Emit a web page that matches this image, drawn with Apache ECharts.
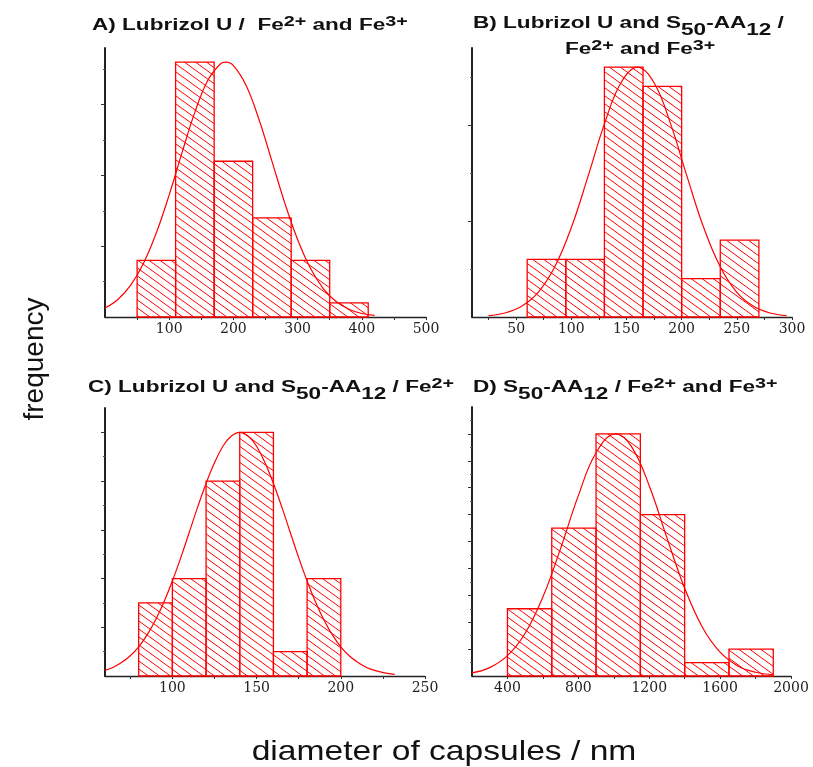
<!DOCTYPE html>
<html><head><meta charset="utf-8">
<script src="https://cdn.jsdelivr.net/npm/echarts@6/dist/echarts.min.js"></script>
<style>html,body{margin:0;padding:0;background:#fff}#c{width:813px;height:767px}</style>
</head><body><div id="c"></div>
<script>
// ---------- Panel A ----------
const aEdges = [50, 110, 170, 230, 290, 350, 410];
const aCounts = [4, 18, 11, 7, 4, 1];
const aFitX = [0, 20, 40, 60, 80, 100, 120, 140, 160, 180, 188, 200, 220, 240, 260, 280, 300, 320, 340, 360, 380, 400, 420];
const aFitY = [0.63, 1.24, 2.25, 3.80, 5.95, 8.63, 11.61, 14.47, 16.71, 17.89, 18.0, 17.75, 16.33, 13.93, 11.01, 8.06, 5.48, 3.45, 2.01, 1.09, 0.55, 0.25, 0.11];
const aXLabels = [100, 200, 300, 400, 500];
const aXTicks = [50, 100, 150, 200, 250, 300, 350, 400, 450, 500];
const aYMajor = [5, 10, 15];
const aYMinor = [2.5, 7.5, 12.5, 17.5];

// ---------- Panel B ----------
const bEdges = [60, 95, 130, 165, 200, 235, 270];
const bCounts = [3, 3, 13, 12, 2, 4];
const bFitX = [25, 40, 55, 70, 85, 100, 115, 130, 145, 160, 175, 190, 205, 220, 235, 250, 265, 280, 295];
const bFitY = [0.07, 0.21, 0.56, 1.28, 2.61, 4.65, 7.29, 10.05, 12.19, 13.0, 12.19, 10.05, 7.29, 4.65, 2.61, 1.28, 0.56, 0.21, 0.07];
const bXLabels = [50, 100, 150, 200, 250, 300];
const bXTicks = [25, 50, 75, 100, 125, 150, 175, 200, 225, 250, 275, 300];
const bYMajor = [5, 10];
const bYMinor = [2.5, 7.5, 12.5];

// ---------- Panel C ----------
const cEdges = [80, 100, 120, 140, 160, 180, 200];
const cCounts = [3, 4, 8, 10, 1, 4];
const cFitX = [60, 65, 70, 75, 80, 85, 90, 95, 100, 105, 110, 115, 120, 125, 130, 135, 140, 145, 150, 155, 160, 165, 170, 175, 180, 185, 190, 195, 200, 205, 210, 215, 220, 226, 232];
const cFitY = [0.23, 0.36, 0.56, 0.83, 1.20, 1.69, 2.30, 3.04, 3.90, 4.86, 5.89, 6.93, 7.90, 8.75, 9.43, 9.85, 10.0, 9.85, 9.43, 8.75, 7.90, 6.93, 5.89, 4.86, 3.90, 3.04, 2.30, 1.69, 1.20, 0.83, 0.56, 0.36, 0.23, 0.13, 0.07];
const cXLabels = [100, 150, 200, 250];
const cXTicks = [75, 100, 125, 150, 175, 200, 225, 250];
const cYMajor = [2, 4, 6, 8, 10];
const cYMinor = [1, 3, 5, 7, 9];

// ---------- Panel D ----------
const dEdges = [400, 650, 900, 1150, 1400, 1650, 1900];
const dCounts = [5, 11, 18, 12, 1, 2];
const dFitX = [200, 300, 400, 500, 600, 700, 800, 900, 1010, 1100, 1200, 1300, 1400, 1500, 1600, 1700, 1800, 1900];
const dFitY = [0.23, 0.62, 1.51, 3.18, 5.87, 9.49, 13.41, 16.6, 18.0, 17.05, 14.15, 10.27, 6.53, 3.63, 1.77, 0.75, 0.28, 0.09];
const dXLabels = [400, 800, 1200, 1600, 2000];
const dXTicks = [400, 600, 800, 1000, 1200, 1400, 1600, 1800, 2000];
const dYMajor = [2, 4, 6, 8, 10, 12, 14, 16, 18];
const dYMinor = [1, 3, 5, 7, 9, 11, 13, 15, 17, 19];

// ---------- Texts ----------
const titleA = '{b|A) Lubrizol U /  Fe}{sup|2+}{b| and Fe}{sup|3+}';
const titleB1 = '{b|B) Lubrizol U and S}{sub|50}{b|-AA}{sub|12}{b| /}';
const titleB2 = '{b|Fe}{sup|2+}{b| and Fe}{sup|3+}';
const titleC = '{b|C) Lubrizol U and S}{sub|50}{b|-AA}{sub|12}{b| / Fe}{sup|2+}';
const titleD = '{b|D) S}{sub|50}{b|-AA}{sub|12}{b| / Fe}{sup|2+}{b| and Fe}{sup|3+}';
const yName = 'frequency';
const xName = 'diameter of capsules / nm';

function hatchCanvas() {
  const w = 11, h = 8;
  const c = document.createElement('canvas');
  c.width = w; c.height = h;
  const g = c.getContext('2d');
  g.strokeStyle = '#ff0000';
  g.lineWidth = 1;
  for (const dx of [-w, 0, w]) {
    g.beginPath(); g.moveTo(dx - w, -h); g.lineTo(dx + 2 * w, 2 * h); g.stroke();
  }
  return c;
}
const hatch = { image: hatchCanvas(), repeat: 'repeat' };

function barSeries(edges, counts, xi, yi) {
  const data = counts.map((c, i) => [edges[i], edges[i + 1], c]);
  return {
    type: 'custom', xAxisIndex: xi, yAxisIndex: yi, data: data,
    encode: { x: [0, 1], y: 2 }, z: 2,
    renderItem: function (params, api) {
      const p0 = api.coord([api.value(0), api.value(2)]);
      const p1 = api.coord([api.value(1), 0]);
      return {
        type: 'rect',
        shape: { x: p0[0], y: p0[1], width: p1[0] - p0[0], height: p1[1] - p0[1] },
        style: { fill: hatch, stroke: '#ff0000', lineWidth: 1.3 }
      };
    }
  };
}
function fitSeries(xs, ys, xi, yi) {
  return {
    type: 'line', xAxisIndex: xi, yAxisIndex: yi, z: 3,
    data: xs.map((x, i) => [x, ys[i]]),
    smooth: 0.4, showSymbol: false, symbol: 'none',
    lineStyle: { color: '#ff0000', width: 1.2 }
  };
}
function xAxis(gi, min, max, labels, ticks) {
  return {
    type: 'value', gridIndex: gi, min: min, max: max, position: 'bottom',
    axisLine: { show: true, onZero: false, lineStyle: { color: '#222', width: 1.3 } },
    axisTick: { show: true, inside: false, length: 3, customValues: ticks, lineStyle: { color: '#333', width: 1 } },
    axisLabel: { show: true, customValues: labels, formatter: function (v) { return String(v); },
      fontFamily: 'DejaVu Serif', fontSize: 14, color: '#222', margin: 5 },
    splitLine: { show: false }, minorTick: { show: false }
  };
}
function yAxes(gi, max, major, minor) {
  return [
    {
      type: 'value', gridIndex: gi, min: 0, max: max, position: 'left',
      axisLine: { show: true, onZero: false, lineStyle: { color: '#222', width: 2 } },
      axisTick: { show: true, inside: false, length: 4, customValues: major, lineStyle: { color: '#333', width: 1 } },
      axisLabel: { show: false }, splitLine: { show: false }
    },
    {
      type: 'value', gridIndex: gi, min: 0, max: max, position: 'left',
      axisLine: { show: false, onZero: false },
      axisTick: { show: true, inside: false, length: 2, customValues: minor, lineStyle: { color: '#555', width: 1 } },
      axisLabel: { show: false }, splitLine: { show: false }
    }
  ];
}

const FONT = 'Liberation Sans, Arial, sans-serif';
const rich = {
  b: { fontFamily: FONT, fontWeight: 'bold', fontSize: 16, fill: '#111' },
  sup: { fontFamily: FONT, fontWeight: 'bold', fontSize: 14, fill: '#111', padding: [0, 0, 8, 0] },
  sub: { fontFamily: FONT, fontWeight: 'bold', fontSize: 16, fill: '#111', padding: [13, 0, 0, 0] }
};
function titleText(text, x, y) {
  return {
    type: 'text', x: x, y: y, scaleX: 1.41, scaleY: 1, silent: true,
    style: { text: text, rich: rich, align: 'left', verticalAlign: 'middle', fill: '#111', fontFamily: FONT, fontWeight: 'bold', fontSize: 16 }
  };
}

const chart = echarts.init(document.getElementById('c'), null, { renderer: 'canvas' });
chart.setOption({
  animation: false,
  backgroundColor: '#ffffff',
  grid: [
    { left: 105, top: 48, width: 321, height: 269, containLabel: false, outerBoundsMode: 'none' },
    { left: 472, top: 48, width: 320, height: 269, containLabel: false, outerBoundsMode: 'none' },
    { left: 105, top: 408, width: 320, height: 268, containLabel: false, outerBoundsMode: 'none' },
    { left: 472, top: 407, width: 319, height: 269, containLabel: false, outerBoundsMode: 'none' }
  ],
  xAxis: [
    xAxis(0, 0, 500, aXLabels, aXTicks),
    xAxis(1, 10, 300, bXLabels, bXTicks),
    xAxis(2, 60, 250, cXLabels, cXTicks),
    xAxis(3, 200, 2000, dXLabels, dXTicks)
  ],
  yAxis: [].concat(
    yAxes(0, 19, aYMajor, aYMinor),
    yAxes(1, 14, bYMajor, bYMinor),
    yAxes(2, 11, cYMajor, cYMinor),
    yAxes(3, 20, dYMajor, dYMinor)
  ),
  series: [
    barSeries(aEdges, aCounts, 0, 0), fitSeries(aFitX, aFitY, 0, 0),
    barSeries(bEdges, bCounts, 1, 2), fitSeries(bFitX, bFitY, 1, 2),
    barSeries(cEdges, cCounts, 2, 4), fitSeries(cFitX, cFitY, 2, 4),
    barSeries(dEdges, dCounts, 3, 6), fitSeries(dFitX, dFitY, 3, 6)
  ],
  graphic: [
    titleText(titleA, 92, 26),
    titleText(titleB1, 473, 24),
    titleText(titleB2, 565, 50),
    titleText(titleC, 88, 388),
    titleText(titleD, 473, 388),
    {
      type: 'text', x: 35, y: 359, rotation: Math.PI / 2, silent: true,
      style: { text: yName, align: 'center', verticalAlign: 'middle', fontFamily: FONT, fontSize: 28, fill: '#111' }
    },
    {
      type: 'text', x: 444, y: 752, scaleX: 1.2, silent: true,
      style: { text: xName, align: 'center', verticalAlign: 'middle', fontFamily: FONT, fontSize: 28, fill: '#111' }
    }
  ]
});
</script></body></html>
